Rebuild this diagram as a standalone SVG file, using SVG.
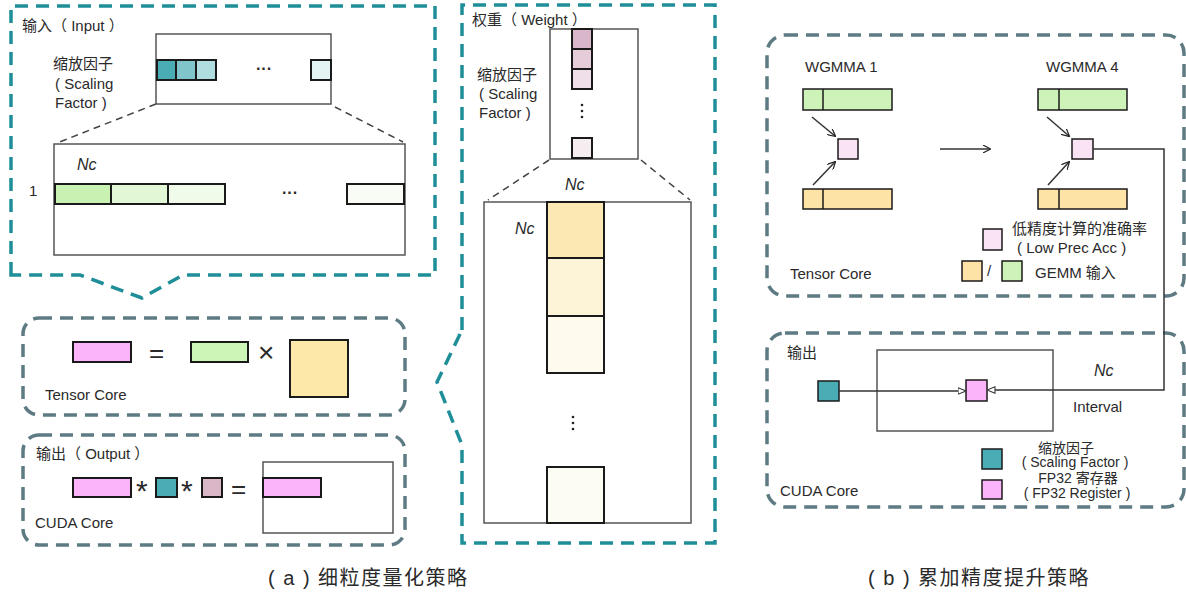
<svg xmlns="http://www.w3.org/2000/svg" width="1186" height="594" viewBox="0 0 1186 594">
<style>
text{font-family:"Liberation Sans","Noto Sans CJK SC",sans-serif;fill:#2a2a2a;font-size:15px}
.it{font-style:italic;font-size:16px}
.teal{fill:none;stroke:#1f8e98;stroke-width:3.5;stroke-dasharray:13 8}
.grey{fill:none;stroke:#5e7b84;stroke-width:3.5;stroke-dasharray:13 8}
.frame{fill:#fff;stroke:#555;stroke-width:1.5}
.cell{stroke:#1a1a1a;stroke-width:2}
.thin{stroke:#1a1a1a;stroke-width:1.5}
.zoom{fill:none;stroke:#444;stroke-width:1.5;stroke-dasharray:7 5}
.ln{fill:none;stroke:#333;stroke-width:1.5}
.cap{font-size:20px;letter-spacing:1.5px}
.lg{font-size:14px}
.op{font-size:30px}
</style>
<defs>
<marker id="ah" viewBox="0 0 10 10" refX="9" refY="5" markerWidth="8" markerHeight="8" orient="auto" markerUnits="userSpaceOnUse"><path d="M0,0 L10,5 L0,10" fill="none" stroke="#222" stroke-width="1.5"/></marker>
<marker id="tri" viewBox="0 0 10 10" refX="10" refY="5" markerWidth="9" markerHeight="8" orient="auto" markerUnits="userSpaceOnUse"><path d="M0,1 L10,5 L0,9 Z" fill="#fff" stroke="#333" stroke-width="1.3"/></marker>
</defs>
<rect width="1186" height="594" fill="#fff"/>

<!-- (a) Input -->
<g id="input">
<path class="teal" d="M11,275 L11,6 L435,6 L435,275 L183,275 L142,298 L80,275 Z"/>
<text x="22" y="31">输入（ Input ）</text>
<rect class="frame" x="156" y="34" width="175" height="70"/>
<rect class="cell" x="157" y="60" width="19" height="20" fill="#4aadb5"/>
<rect class="cell" x="176" y="60" width="20" height="20" fill="#80c5ca"/>
<rect class="cell" x="196" y="60" width="20" height="20" fill="#b0dee0"/>
<rect class="cell" x="311" y="60" width="20" height="20" fill="#e4f3f4"/>
<text x="256" y="74" style="font-size:16px;font-weight:bold">···</text>
<text x="53" y="69">缩放因子</text>
<text x="55" y="89">( Scaling</text>
<text x="55" y="108">Factor )</text>
<path class="zoom" d="M156,104 L57,143 M335,107 L403,142"/>
<rect class="frame" x="54" y="144" width="351" height="111"/>
<text class="it" x="77" y="170">Nc</text>
<text x="29" y="196">1</text>
<rect class="cell" x="55" y="184" width="56" height="20" fill="#c9f1b2"/>
<rect class="cell" x="111" y="184" width="57" height="20" fill="#e2f7d6"/>
<rect class="cell" x="168" y="184" width="57" height="20" fill="#f1fbea"/>
<rect class="cell" x="347" y="184" width="57" height="20" fill="#f8fcf5"/>
<text x="282" y="198" style="font-size:16px;font-weight:bold">···</text>
</g>

<!-- (a) Tensor Core -->
<g id="tensor-core-a">
<rect class="grey" x="23" y="318" width="382" height="97" rx="16"/>
<rect class="cell" x="73" y="342" width="58" height="20" fill="#fbb3fa"/>
<text x="149" y="362" style="font-size:26px">=</text>
<rect class="cell" x="191" y="342" width="57" height="20" fill="#cef5b8"/>
<text x="258" y="362" style="font-size:28px;font-weight:300">×</text>
<rect class="cell" x="290" y="340" width="58" height="57" fill="#fde7a9"/>
<text x="45" y="400">Tensor Core</text>
</g>

<!-- (a) CUDA Core -->
<g id="cuda-core-a">
<rect class="grey" x="23" y="435" width="382" height="110" rx="16"/>
<text x="36" y="459">输出（ Output ）</text>
<rect class="cell" x="73" y="478" width="58" height="19" fill="#fbb3fa"/>
<text class="op" x="136" y="501">*</text>
<rect class="cell" x="156" y="478" width="21" height="19" fill="#4aadb5"/>
<text class="op" x="181" y="501">*</text>
<rect class="cell" x="202" y="478" width="20" height="19" fill="#dbb6c6"/>
<text x="231" y="498" style="font-size:26px">=</text>
<rect class="frame" x="263" y="462" width="130" height="71"/>
<rect class="cell" x="263" y="478" width="58" height="19" fill="#fbb3fa"/>
<text x="35" y="528">CUDA Core</text>
</g>

<!-- (a) Weight -->
<g id="weight">
<path class="teal" d="M462,330 L462,5 L715,5 L715,543 L462,543 L462,445 L437,382 Z"/>
<text x="472" y="25">权重（ Weight ）</text>
<rect class="frame" x="550" y="29" width="88" height="130"/>
<rect class="cell" x="572" y="29" width="20" height="20" fill="#d9b6c9"/>
<rect class="cell" x="572" y="49" width="20" height="20" fill="#e6cbd9"/>
<rect class="cell" x="572" y="69" width="20" height="20" fill="#f0dfe8"/>
<rect class="cell" x="572" y="138" width="20" height="20" fill="#f6edf1"/>
<circle cx="582" cy="105" r="1.3" fill="#222"/><circle cx="582" cy="111" r="1.3" fill="#222"/><circle cx="582" cy="117" r="1.3" fill="#222"/>
<text x="477" y="80">缩放因子</text>
<text x="479" y="99">( Scaling</text>
<text x="479" y="118">Factor )</text>
<path class="zoom" d="M549,160 L488,200 M641,160 L690,200"/>
<text class="it" x="565" y="190">Nc</text>
<rect class="frame" x="484" y="202" width="207" height="321"/>
<rect class="cell" x="547" y="202" width="57" height="56" fill="#fbe8b3"/>
<rect class="cell" x="547" y="258" width="57" height="58" fill="#fdf4d7"/>
<rect class="cell" x="547" y="316" width="57" height="57" fill="#fefbee"/>
<rect class="cell" x="547" y="467" width="57" height="56" fill="#fdfcf2"/>
<circle cx="573" cy="417" r="1.3" fill="#222"/><circle cx="573" cy="423" r="1.3" fill="#222"/><circle cx="573" cy="429" r="1.3" fill="#222"/>
<text class="it" x="515" y="234">Nc</text>
</g>

<!-- (b) Tensor Core -->
<g id="tensor-core-b">
<rect class="grey" x="767" y="35" width="417" height="261" rx="18"/>
<text x="805" y="72">WGMMA 1</text>
<text x="1046" y="72">WGMMA 4</text>
<rect class="thin" x="803" y="89" width="89" height="21" fill="#cdf3b8"/>
<line class="thin" x1="823" y1="89" x2="823" y2="110"/>
<rect class="thin" x="803" y="189" width="89" height="20" fill="#fde3a5"/>
<line class="thin" x1="823" y1="189" x2="823" y2="209"/>
<rect class="thin" x="838" y="139" width="20" height="20" fill="#fbe3f6"/>
<rect class="thin" x="1038" y="89" width="89" height="21" fill="#cdf3b8"/>
<line class="thin" x1="1059" y1="89" x2="1059" y2="110"/>
<rect class="thin" x="1038" y="189" width="89" height="20" fill="#fde3a5"/>
<line class="thin" x1="1059" y1="189" x2="1059" y2="209"/>
<rect class="thin" x="1072" y="139" width="21" height="20" fill="#fbe3f6"/>
<rect class="thin" x="983" y="229" width="19" height="21" fill="#fbe3f6"/>
<text x="1012" y="234">低精度计算的准确率</text>
<text x="1017" y="253">( Low Prec Acc )</text>
<rect class="thin" x="962" y="261" width="20" height="20" fill="#fde3a5"/>
<text x="987" y="276">/</text>
<rect class="thin" x="1002" y="261" width="20" height="20" fill="#cdf3b8"/>
<text x="1035" y="278">GEMM 输入</text>
<text x="790" y="279">Tensor Core</text>
</g>

<!-- (b) CUDA Core -->
<g id="cuda-core-b">
<rect class="grey" x="767" y="333" width="417" height="174" rx="18"/>
<text x="787" y="358">输出</text>
<rect class="frame" x="877" y="350" width="176" height="81" fill="none"/>
<rect class="thin" x="818" y="381" width="21" height="20" fill="#4aadb5"/>
<rect class="thin" x="966" y="380" width="21" height="21" fill="#fbb3fa"/>
<text class="it" x="1094" y="376">Nc</text>
<text x="1073" y="412">Interval</text>
<rect class="thin" x="982" y="449" width="20" height="20" fill="#4aadb5"/>
<rect class="thin" x="982" y="480" width="20" height="19" fill="#fbb3fa"/>
<text class="lg" x="1066" y="453" text-anchor="middle">缩放因子</text>
<text class="lg" x="1075" y="467" text-anchor="middle">( Scaling Factor )</text>
<text class="lg" x="1078" y="483" text-anchor="middle">FP32 寄存器</text>
<text class="lg" x="1077" y="498" text-anchor="middle">( FP32 Register )</text>
<text x="780" y="496">CUDA Core</text>
</g>

<g id="connectors">
<line class="ln" x1="812" y1="117" x2="835" y2="136" marker-end="url(#ah)"/>
<line class="ln" x1="813" y1="185" x2="835" y2="162" marker-end="url(#ah)"/>
<line class="ln" x1="1047" y1="117" x2="1069" y2="136" marker-end="url(#ah)"/>
<line class="ln" x1="1048" y1="185" x2="1069" y2="162" marker-end="url(#ah)"/>
<line class="ln" x1="940" y1="149" x2="990" y2="149" marker-end="url(#ah)"/>
<polyline class="ln" points="1093,149 1164,149 1164,390 987,390" marker-end="url(#tri)"/>
<line class="ln" x1="839" y1="391" x2="966" y2="391" marker-end="url(#tri)"/>
</g>

<text class="cap" x="268" y="585">( a ) 细粒度量化策略</text>
<text class="cap" x="868" y="585">( b ) 累加精度提升策略</text>
</svg>
